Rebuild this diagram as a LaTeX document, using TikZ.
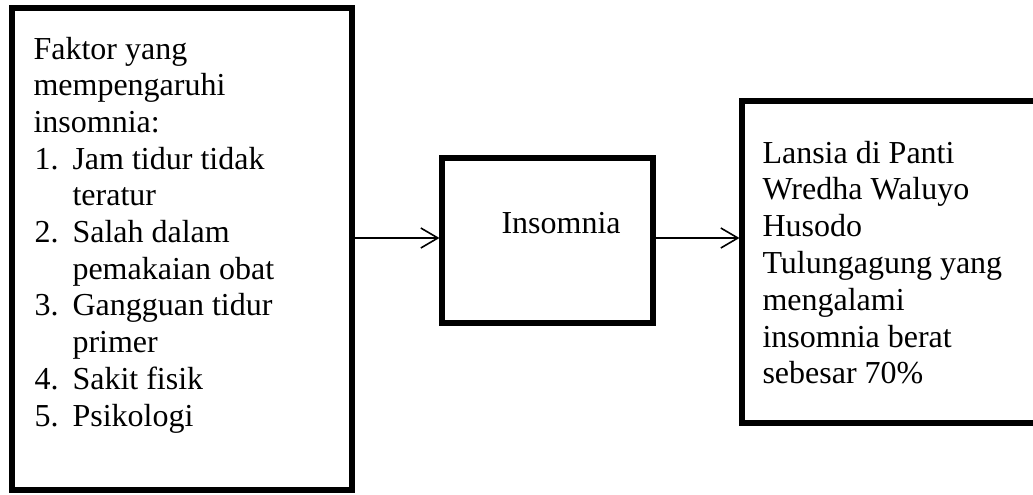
\documentclass[tikz,border=0pt]{standalone}
\usepackage{fontspec}
\setmainfont{Liberation Serif}
\usetikzlibrary{arrows.meta}
\begin{document}
\begin{tikzpicture}[x=0.375pt,y=-0.375pt,
  box/.style={draw=black, line width=1.9pt, rectangle, inner sep=0pt, fill=white},
  txt/.style={anchor=base west, inner sep=0pt, font=\fontsize{12}{13.9}\selectfont},
  conn/.style={draw=black, line width=0.6pt, -{Straight Barb[length=6.4pt,width=7.5pt]}}]
\useasboundingbox (0,0) rectangle (1033,494);
\clip (0,0) rectangle (1033,494);
% boxes
\node[box, minimum width=127.5pt, minimum height=180.75pt] (left) at (182,249) {};
\node[box, minimum width=79.125pt, minimum height=61.875pt] (mid) at (547.5,240.5) {};
\node[box, minimum width=111.75pt, minimum height=120.75pt] (right) at (891,262) {};
% left box text
\node[txt] (l1) at (33,59) {Faktor yang};
\node[txt] (l2) at (33,95.7) {mempengaruhi};
\node[txt] (l3) at (33,132.4) {insomnia:};
\node[txt] (n1) at (34,169.1) {1.};
\node[txt] (l4) at (72,169.1) {Jam tidur tidak};
\node[txt] (l5) at (72,205.8) {teratur};
\node[txt] (n2) at (34,242.5) {2.};
\node[txt] (l6) at (72,242.5) {Salah dalam};
\node[txt] (l7) at (72,279.2) {pemakaian obat};
\node[txt] (n3) at (34,315.9) {3.};
\node[txt] (l8) at (72,315.9) {Gangguan tidur};
\node[txt] (l9) at (72,352.6) {primer};
\node[txt] (n4) at (34,389.3) {4.};
\node[txt] (l10) at (72,389.3) {Sakit fisik};
\node[txt] (n5) at (34,426) {5.};
\node[txt] (l11) at (72,426) {Psikologi};
% middle text
\node[txt] (mt) at (501,233) {Insomnia};
% right box text
\node[txt] (r1) at (762,163) {Lansia di Panti};
\node[txt] (r2) at (762,199.8) {Wredha Waluyo};
\node[txt] (r3) at (762,236.6) {Husodo};
\node[txt] (r4) at (762,273.4) {Tulungagung yang};
\node[txt] (r5) at (762,310.2) {mengalami};
\node[txt] (r6) at (762,347) {insomnia berat};
\node[txt] (r7) at (762,383.8) {sebesar 70\%};
% connectors
\coordinate (ay) at (0,238);
\draw[conn] (left.east |- ay) -- (mid.west |- ay);
\draw[conn] (mid.east |- ay) -- (right.west |- ay);
\end{tikzpicture}
\end{document}
